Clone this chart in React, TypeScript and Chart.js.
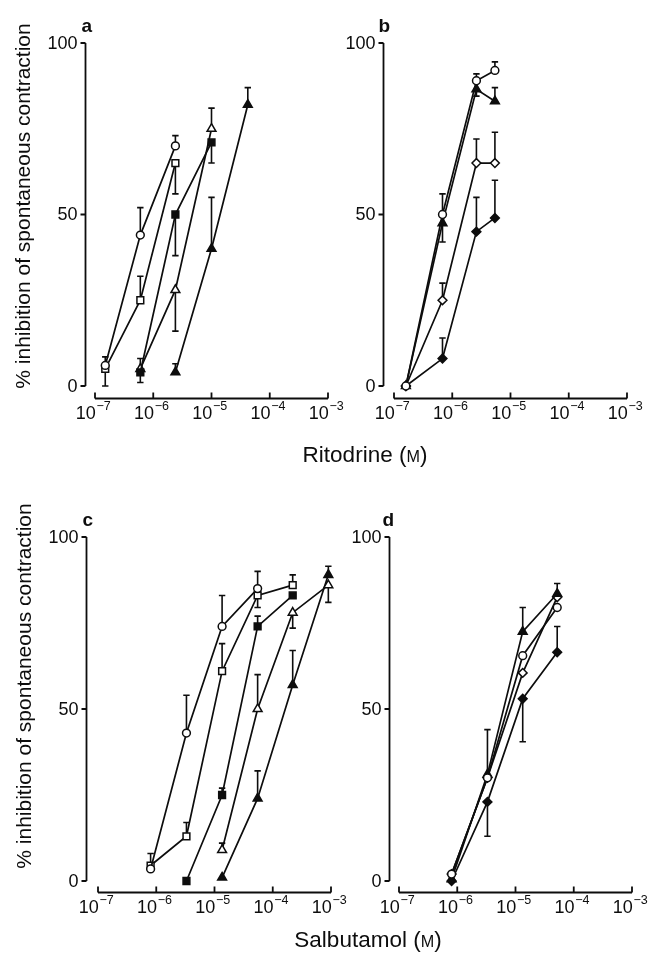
import React, { useEffect, useRef } from 'react';
import { Chart, registerables } from 'chart.js';

Chart.register(...registerables);

const W = 656;
const H = 954;
const FONT = '"Liberation Sans", Arial, Helvetica, sans-serif';
const INK = '#0d0d0d';

// ---------- tick labels ----------
const xTickExponents = [-7, -6, -5, -4, -3];
const yTickValues = [0, 50, 100];

// ---------- panel a : ritodrine ----------
const concA = [1.5e-7, 6e-7, 2.4e-6, 1e-5, 4.2e-5];
const aOpenCircle = [6, 44, 70, null, null];
const aOpenCircleErr = [8.5, 52, 73, null, null];
const aOpenSquare = [5, 25, 65, null, null];
const aOpenSquareErr = [0, 32, 56, null, null];
const aFilledSquare = [null, 4, 50, 71, null];
const aFilledSquareErr = [null, 1, 38, 65, null];
const aOpenTriangle = [null, 5, 28, 75, null];
const aOpenTriangleErr = [null, 8, 16, 81, null];
const aFilledTriangle = [null, null, 4, 40, 82];
const aFilledTriangleErr = [null, null, 6.5, 55, 87];

// ---------- panel b : ritodrine ----------
const concB = [1.6e-7, 6.8e-7, 2.6e-6, 5.4e-6];
const bOpenCircle = [0, 50, 89, 92];
const bOpenCircleErr = [null, 56, 91, 94.5];
const bFilledTriangle = [0, 47.5, 86.5, 83];
const bFilledTriangleErr = [null, 42, 84.5, 87];
const bOpenDiamond = [0, 25, 65, 65];
const bOpenDiamondErr = [null, 30, 72, 74];
const bFilledDiamond = [0, 8, 45, 49];
const bFilledDiamondErr = [null, 14, 55, 60];

// ---------- panel c : salbutamol ----------
const concC = [8e-7, 3.3e-6, 1.35e-5, 5.5e-5, 2.2e-4, 9e-4];
const cOpenCircle = [3.5, 43, 74, 85, null, null];
const cOpenCircleErr = [8, 54, 83, 90, null, null];
const cOpenSquare = [4.5, 13, 61, 83, 86, null];
const cOpenSquareErr = [null, 17, 69, 79.5, 89, null];
const cFilledSquare = [null, 0, 25, 74, 83, null];
const cFilledSquareErr = [null, null, 27, 77, null, null];
const cOpenTriangle = [null, null, 9, 50, 78, 86];
const cOpenTriangleErr = [null, null, 11, 60, 73.5, 81];
const cFilledTriangle = [null, null, 1, 24, 57, 89];
const cFilledTriangleErr = [null, null, null, 32, 67, 91.5];

// ---------- panel d : salbutamol ----------
const concD = [8e-7, 3.3e-6, 1.33e-5, 5.2e-5];
const dOpenCircle = [2, 30, 65.5, 79.5];
const dOpenCircleErr = [null, 44, null, null];
const dFilledTriangle = [0.5, 31, 72.5, 83.5];
const dFilledTriangleErr = [null, null, 79.5, 86.5];
const dOpenDiamond = [2, 30, 60.5, 82.5];
const dOpenDiamondErr = [null, null, null, null];
const dFilledDiamond = [0, 23, 53, 66.5];
const dFilledDiamondErr = [null, 13, 40.5, 74];

// ---------- marker styles ----------
const MARKERS: Record<string, any> = {
  openCircle: { pointStyle: 'circle', pointRadius: 3.9, fill: '#ffffff' },
  openSquare: { pointStyle: 'rect', pointRadius: 4.8, fill: '#ffffff' },
  filledSquare: { pointStyle: 'rect', pointRadius: 4.8, fill: INK },
  openTriangle: { pointStyle: 'triangle', pointRadius: 5.1, fill: '#ffffff' },
  filledTriangle: { pointStyle: 'triangle', pointRadius: 5.1, fill: INK },
  openDiamond: { pointStyle: 'rectRot', pointRadius: 4.4, fill: '#ffffff' },
  filledDiamond: { pointStyle: 'rectRot', pointRadius: 4.4, fill: INK },
};

function makeSeries(conc: number[], vals: (number | null)[], errs: (number | null)[], marker: string) {
  const m = MARKERS[marker];
  const data: any[] = [];
  conc.forEach((c, i) => {
    const v = vals[i];
    if (v !== null && v !== undefined) data.push({ x: c, y: v, e: errs[i] });
  });
  return {
    data,
    borderColor: INK,
    borderWidth: 1.7,
    pointStyle: m.pointStyle,
    pointRadius: m.pointRadius,
    pointBackgroundColor: m.fill,
    pointBorderColor: INK,
    pointBorderWidth: 1.5,
    fill: false,
    tension: 0,
    clip: false,
  };
}

const PANELS = [
  {
    letter: 'a', L: 95, R: 328, T: 43, B: 386, yGap: 10, xGap: 12, letterDx: -4,
    series: [
      makeSeries(concA, aOpenCircle, aOpenCircleErr, 'openCircle'),
      makeSeries(concA, aOpenSquare, aOpenSquareErr, 'openSquare'),
      makeSeries(concA, aFilledSquare, aFilledSquareErr, 'filledSquare'),
      makeSeries(concA, aOpenTriangle, aOpenTriangleErr, 'openTriangle'),
      makeSeries(concA, aFilledTriangle, aFilledTriangleErr, 'filledTriangle'),
    ],
  },
  {
    letter: 'b', L: 394, R: 627, T: 43, B: 386, yGap: 11, xGap: 12, letterDx: -5,
    series: [
      makeSeries(concB, bOpenCircle, bOpenCircleErr, 'openCircle'),
      makeSeries(concB, bFilledTriangle, bFilledTriangleErr, 'filledTriangle'),
      makeSeries(concB, bOpenDiamond, bOpenDiamondErr, 'openDiamond'),
      makeSeries(concB, bFilledDiamond, bFilledDiamondErr, 'filledDiamond'),
    ],
  },
  {
    letter: 'c', L: 98, R: 331, T: 537, B: 881, yGap: 12, xGap: 11, letterDx: -4,
    series: [
      makeSeries(concC, cOpenCircle, cOpenCircleErr, 'openCircle'),
      makeSeries(concC, cOpenSquare, cOpenSquareErr, 'openSquare'),
      makeSeries(concC, cFilledSquare, cFilledSquareErr, 'filledSquare'),
      makeSeries(concC, cOpenTriangle, cOpenTriangleErr, 'openTriangle'),
      makeSeries(concC, cFilledTriangle, cFilledTriangleErr, 'filledTriangle'),
    ],
  },
  {
    letter: 'd', L: 399, R: 632, T: 537, B: 881, yGap: 10, xGap: 11, letterDx: -7,
    series: [
      makeSeries(concD, dOpenCircle, dOpenCircleErr, 'openCircle'),
      makeSeries(concD, dFilledTriangle, dFilledTriangleErr, 'filledTriangle'),
      makeSeries(concD, dOpenDiamond, dOpenDiamondErr, 'openDiamond'),
      makeSeries(concD, dFilledDiamond, dFilledDiamondErr, 'filledDiamond'),
    ],
  },
];

const errorBarPlugin = {
  id: 'errorBars',
  beforeDatasetsDraw(chart: any) {
    const ctx = chart.ctx;
    const ys = chart.scales.y;
    ctx.save();
    ctx.strokeStyle = INK;
    ctx.lineWidth = 1.6;
    chart.data.datasets.forEach((ds: any, i: number) => {
      const meta = chart.getDatasetMeta(i);
      ds.data.forEach((d: any, j: number) => {
        if (d.e === null || d.e === undefined) return;
        const el = meta.data[j];
        const ey = ys.getPixelForValue(d.e);
        ctx.beginPath();
        ctx.moveTo(el.x, el.y);
        ctx.lineTo(el.x, ey);
        ctx.moveTo(el.x - 3.2, ey);
        ctx.lineTo(el.x + 3.2, ey);
        ctx.stroke();
      });
    });
    ctx.restore();
  },
};

function makeAxesPlugin(p: any) {
  return {
    id: 'paperAxes',
    afterDraw(chart: any) {
      const ctx = chart.ctx;
      const xs = chart.scales.x;
      const ys = chart.scales.y;
      const ax = Math.round(chart.chartArea.left - p.yGap) + 0.5;
      const ay = Math.round(chart.chartArea.bottom + p.xGap) + 0.5;
      ctx.save();
      ctx.strokeStyle = INK;
      ctx.fillStyle = INK;
      ctx.lineWidth = 1.8;
      // y axis
      ctx.beginPath();
      ctx.moveTo(ax, ys.getPixelForValue(0));
      ctx.lineTo(ax, ys.getPixelForValue(100));
      yTickValues.forEach((v) => {
        const py = ys.getPixelForValue(v);
        ctx.moveTo(ax - 5, py);
        ctx.lineTo(ax, py);
      });
      ctx.stroke();
      ctx.font = `18px ${FONT}`;
      ctx.textAlign = 'right';
      ctx.textBaseline = 'middle';
      yTickValues.forEach((v) => {
        ctx.fillText(String(v), ax - 8, ys.getPixelForValue(v) + 1);
      });
      // x axis
      ctx.beginPath();
      const x0 = xs.getPixelForValue(Math.pow(10, xTickExponents[0]));
      const x1 = xs.getPixelForValue(Math.pow(10, xTickExponents[xTickExponents.length - 1]));
      ctx.moveTo(x0, ay);
      ctx.lineTo(x1, ay);
      xTickExponents.forEach((e) => {
        const px = xs.getPixelForValue(Math.pow(10, e));
        ctx.moveTo(px, ay);
        ctx.lineTo(px, ay - 6);
      });
      ctx.stroke();
      ctx.textAlign = 'left';
      ctx.textBaseline = 'alphabetic';
      xTickExponents.forEach((e) => {
        const px = xs.getPixelForValue(Math.pow(10, e));
        const base = '10';
        const sup = '\u2212' + Math.abs(e);
        ctx.font = `18px ${FONT}`;
        const wb = ctx.measureText(base).width;
        ctx.font = `12.5px ${FONT}`;
        const ws = ctx.measureText(sup).width;
        const start = px - (wb + ws) / 2 - 2;
        ctx.font = `18px ${FONT}`;
        ctx.fillText(base, start, ay + 20.5);
        ctx.font = `12.5px ${FONT}`;
        ctx.fillText(sup, start + wb + 0.5, ay + 11);
      });
      // panel letter
      ctx.font = `bold 19px ${FONT}`;
      ctx.textAlign = 'left';
      ctx.fillText(p.letter, ax + p.letterDx, ys.getPixelForValue(100) - 11);
      ctx.restore();
    },
  };
}

function Panel({ p }: { p: any }) {
  const ref = useRef<HTMLCanvasElement | null>(null);
  useEffect(() => {
    if (!ref.current) return;
    const chart = new Chart(ref.current, {
      type: 'line',
      data: { datasets: p.series },
      options: {
        animation: false,
        responsive: false,
        maintainAspectRatio: false,
        devicePixelRatio: 1,
        events: [],
        layout: { padding: { left: p.L, right: W - p.R, top: p.T, bottom: H - p.B } },
        scales: {
          x: { type: 'logarithmic', min: 1e-7, max: 1e-3, display: false },
          y: { type: 'linear', min: 0, max: 100, display: false },
        },
        plugins: { legend: { display: false }, tooltip: { enabled: false } },
      } as any,
      plugins: [errorBarPlugin, makeAxesPlugin(p)],
    });
    return () => chart.destroy();
  }, [p]);
  return (
    <canvas
      ref={ref}
      width={W}
      height={H}
      style={{ position: 'absolute', left: 0, top: 0, width: W, height: H, display: 'block' }}
    />
  );
}

const yTitle = '% inhibition of spontaneous contraction';

function RotTitle({ x, y }: { x: number; y: number }) {
  return (
    <div
      style={{
        position: 'absolute', left: x, top: y, transform: 'translate(-50%, -50%) rotate(-90deg)',
        whiteSpace: 'nowrap', fontFamily: FONT, fontSize: 21, color: INK, lineHeight: 1,
      }}
    >
      {yTitle}
    </div>
  );
}

function XTitle({ x, y, name }: { x: number; y: number; name: string }) {
  return (
    <div
      style={{
        position: 'absolute', left: x, top: y, transform: 'translate(-50%, -50%)',
        whiteSpace: 'nowrap', fontFamily: FONT, fontSize: 22.5, color: INK, lineHeight: 1,
      }}
    >
      {name} (<span style={{ fontSize: '0.72em' }}>M</span>)
    </div>
  );
}

export default function App() {
  return (
    <div style={{ position: 'absolute', left: 0, top: 0, width: W, height: H, background: '#ffffff', overflow: 'hidden' }}>
      {PANELS.map((p) => (
        <Panel key={p.letter} p={p} />
      ))}
      <RotTitle x={22} y={206} />
      <RotTitle x={23} y={686} />
      <XTitle x={365} y={455} name="Ritodrine" />
      <XTitle x={368} y={940} name="Salbutamol" />
    </div>
  );
}
